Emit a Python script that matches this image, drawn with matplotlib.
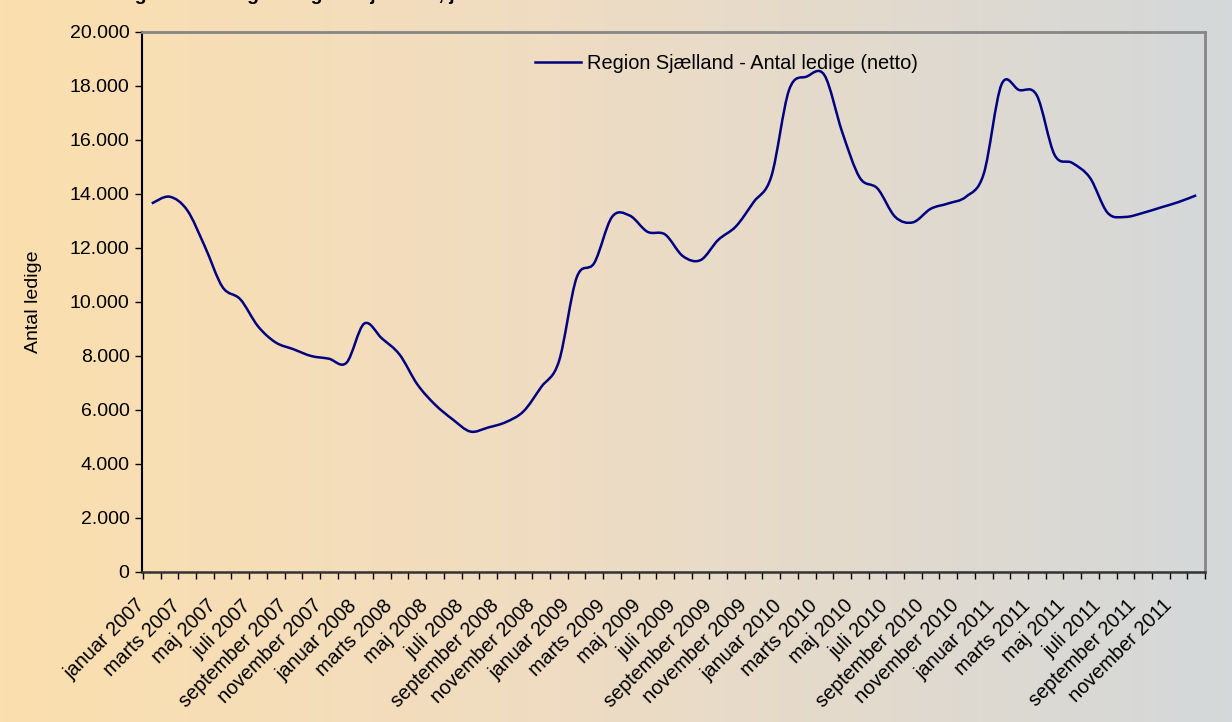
import numpy as np
import matplotlib
matplotlib.use("Agg")
import matplotlib.pyplot as plt
from matplotlib.path import Path
from matplotlib.patches import PathPatch
from matplotlib.lines import Line2D
from matplotlib.colors import LinearSegmentedColormap

plt.rcParams['font.family'] = ['Liberation Sans', 'DejaVu Sans']

# monthly data, januar 2007 - december 2011
months = ["januar", "februar", "marts", "april", "maj", "juni", "juli",
          "august", "september", "oktober", "november", "december"]
years = [2007, 2008, 2009, 2010, 2011]
categories = [f"{m} {y}" for y in years for m in months]

ledige = [13650, 13900, 13400, 12050, 10550, 10100, 9100, 8500, 8250, 8000, 7900, 7750,
          9200, 8650, 8050, 6950, 6200, 5650, 5200, 5350, 5550, 5950, 6850, 7800,
          10900, 11450, 13150, 13200, 12600, 12500, 11700, 11550, 12300, 12800, 13700, 14650,
          17850, 18350, 18400, 16300, 14600, 14200, 13150, 12950, 13450, 13650, 13900, 14750,
          18050, 17850, 17650, 15450, 15150, 14600, 13300, 13150, 13300, 13500, 13700, 13950]

series_label = "Region Sjælland - Antal ledige (netto)"
title = "Udvikling i antal ledige i Region Sjælland, januar 2007 - december 2011"

navy = "#000080"

fig = plt.figure(figsize=(12.32, 7.22), dpi=100)

# gradient background
bg = fig.add_axes([0, 0, 1, 1], zorder=-10)
cmap = LinearSegmentedColormap.from_list(
    "bg", [(0.0, "#fbdfae"), (0.45, "#efdcc2"), (1.0, "#d4d8da")])
bg.imshow(np.linspace(0, 1, 256)[None, :], aspect="auto", cmap=cmap,
          extent=[0, 1, 0, 1])
bg.axis("off")

# title sits almost entirely above the top edge, as in the source
fig.text(0.048, 0.9995, title, fontsize=14, fontweight="bold", va="baseline", ha="left")

ax = fig.add_axes([0.1153, 0.2078, 0.8628, 0.7479])
ax.patch.set_alpha(0)

# smooth curve (Excel-like bezier through the points)
n = len(ledige)
x = np.arange(n) + 0.5
y = np.array(ledige, dtype=float)
verts = [(x[0], y[0])]
codes = [Path.MOVETO]
for i in range(n - 1):
    p0 = np.array([x[max(i - 1, 0)], y[max(i - 1, 0)]])
    p1 = np.array([x[i], y[i]])
    p2 = np.array([x[i + 1], y[i + 1]])
    p3 = np.array([x[min(i + 2, n - 1)], y[min(i + 2, n - 1)]])
    c1 = p1 + (p2 - p0) / 6
    c2 = p2 - (p3 - p1) / 6
    verts += [tuple(c1), tuple(c2), tuple(p2)]
    codes += [Path.CURVE4] * 3
ax.add_patch(PathPatch(Path(verts, codes), fill=False, edgecolor=navy, lw=1.8,
                       capstyle="butt", joinstyle="round"))

ax.set_xlim(0, n)
ax.set_ylim(0, 20000)

yt = np.arange(0, 20001, 2000)
ax.set_yticks(yt, [f"{v:,}".replace(",", ".") for v in yt])
ax.tick_params(axis="y", direction="out", length=5, width=1, labelsize=14, pad=4)

ax.set_xticks(np.arange(0, n + 1))
ax.set_xticklabels([])
ax.tick_params(axis="x", which="major", direction="out", length=5, width=1)
# labels every second month, anchored a little left of the category centre
ax.set_xticks(x[::2] - 0.55, categories[::2], minor=True)
ax.tick_params(axis="x", which="minor", length=0, pad=22, labelsize=14.3)
for lab in ax.get_xticklabels(minor=True):
    lab.set_rotation(45)
    lab.set_ha("right")
    lab.set_va("center")
    lab.set_rotation_mode("anchor")

ax.set_ylabel("Antal ledige", fontsize=14, labelpad=20)

for s in ["top", "right"]:
    ax.spines[s].set_color("#868686")
    ax.spines[s].set_linewidth(2)
ax.spines["left"].set_color("black")
ax.spines["left"].set_linewidth(1.5)
ax.spines["bottom"].set_color("#333333")
ax.spines["bottom"].set_linewidth(1.8)

handle = Line2D([], [], color=navy, lw=1.8)
ax.legend([handle], [series_label], loc="center left", bbox_to_anchor=(0.3695, 0.942),
          frameon=False, fontsize=14.4, handlelength=2.3, handletextpad=0.3,
          borderpad=0, borderaxespad=0)

fig.savefig("out.png", dpi=100)
